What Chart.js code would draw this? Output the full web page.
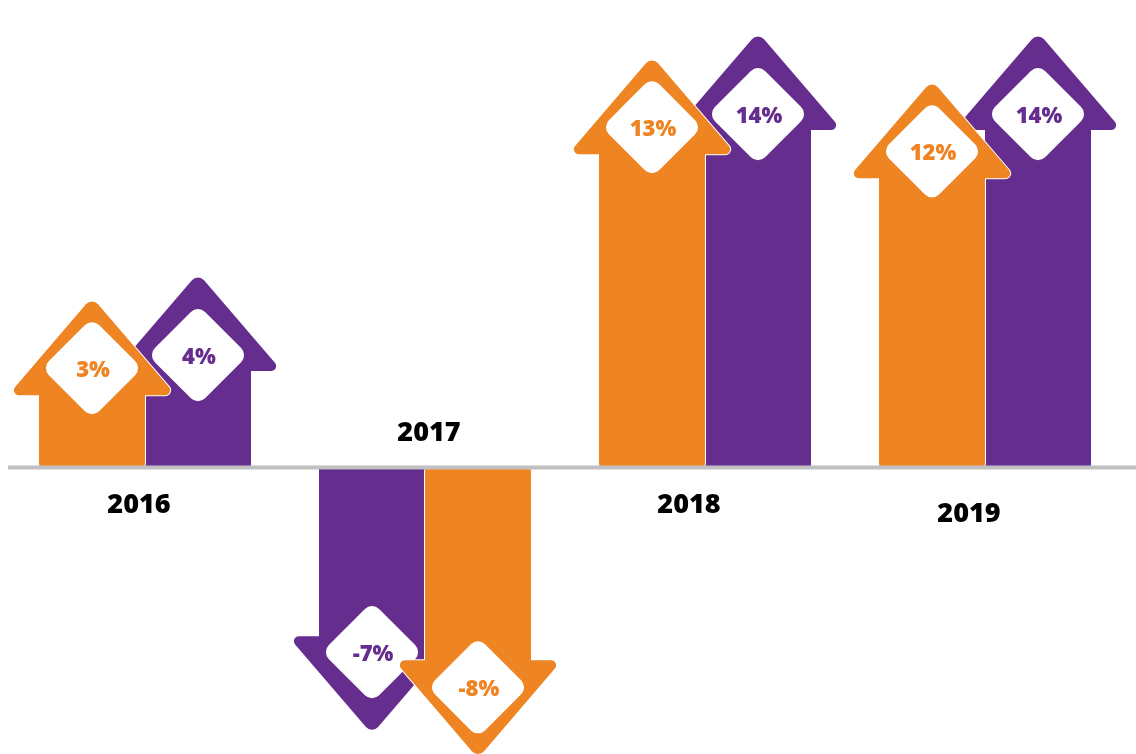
<!DOCTYPE html>
<html>
<head>
<meta charset="utf-8">
<script src="https://cdn.jsdelivr.net/npm/chart.js@4.4.1/dist/chart.umd.min.js"></script>
<style>
  html, body { margin: 0; padding: 0; background: #ffffff; }
  #wrap { width: 1136px; height: 754px; position: relative; }
</style>
</head>
<body>
<div id="wrap"><canvas id="c"></canvas></div>
<script>
// ---- data ----
const years = ['2016', '2017', '2018', '2019'];
const orangeSeries = [3, -8, 13, 12];
const purpleSeries = [4, -7, 14, 14];
// which series sits in the left slot of each year group
const leftSeriesName = ['orange', 'purple', 'orange', 'orange'];
const valueLabels = { orange: orangeSeries.map(v => v + '%'), purple: purpleSeries.map(v => v + '%') };

// ---- styles ----
const COLORS = { orange: '#EE8422', purple: '#652D8E' };
const STYLE = {
  headHeight: 98, headOverhang: 31, tipRadius: 8, wingRadius: 5, baseRadius: 4,
  diamondSide: 71, diamondRadius: 10, diamondOffset: { orange: 27, purple: 16 },
  pctFont: '800 22px "Open Sans", "DejaVu Sans", sans-serif',
  yearFont: '800 27px "Open Sans", "DejaVu Sans", sans-serif',
  yearGap: 36,
  yearNudge: [{ dx: -6, dy: 0 }, { dx: 4, dy: 0 }, { dx: -16, dy: 0 }, { dx: -16, dy: 9 }],
  baseline: { color: '#C0C0C0', width: 4, startX: 8 }
};

const seriesValues = { orange: orangeSeries, purple: purpleSeries };
const rightSeriesName = leftSeriesName.map(n => n === 'orange' ? 'purple' : 'orange');
const leftData = years.map((_, i) => seriesValues[leftSeriesName[i]][i]);
const rightData = years.map((_, i) => seriesValues[rightSeriesName[i]][i]);

function roundPoly(ctx, pts) {
  const n = pts.length;
  const a = pts[0], b = pts[n - 1];
  ctx.beginPath();
  ctx.moveTo((a.x + b.x) / 2, (a.y + b.y) / 2);
  for (let i = 0; i < n; i++) {
    const p = pts[i], q = pts[(i + 1) % n];
    ctx.arcTo(p.x, p.y, q.x, q.y, p.r);
  }
  ctx.closePath();
}

function arrowPath(ctx, bar) {
  const half = bar.width / 2;
  const bl = bar.x - half, br = bar.x + half;
  const y0 = bar.base, yw = bar.y;
  const dir = yw < y0 ? -1 : 1;
  const yt = yw + dir * STYLE.headHeight;
  const hw = half + STYLE.headOverhang;
  roundPoly(ctx, [
    { x: bl, y: y0, r: STYLE.baseRadius },
    { x: br, y: y0, r: STYLE.baseRadius },
    { x: br, y: yw, r: 0 },
    { x: bar.x + hw, y: yw, r: STYLE.wingRadius },
    { x: bar.x, y: yt, r: STYLE.tipRadius },
    { x: bar.x - hw, y: yw, r: STYLE.wingRadius },
    { x: bl, y: yw, r: 0 }
  ]);
  return dir;
}

function drawDiamond(ctx, cx, cy) {
  const s = STYLE.diamondSide, r = STYLE.diamondRadius, h = s / 2;
  ctx.save();
  ctx.translate(cx, cy);
  ctx.rotate(Math.PI / 4);
  roundPoly(ctx, [
    { x: -h, y: -h, r: r }, { x: h, y: -h, r: r }, { x: h, y: h, r: r }, { x: -h, y: h, r: r }
  ]);
  ctx.fillStyle = '#ffffff';
  ctx.fill();
  ctx.restore();
}

const arrowPlugin = {
  id: 'arrows',
  afterDatasetsDraw(chart) {
    const ctx = chart.ctx;
    const metas = [chart.getDatasetMeta(0), chart.getDatasetMeta(1)];
    const items = [];
    years.forEach((_, i) => {
      items.push({ bar: metas[0].data[i], name: leftSeriesName[i], i });
      items.push({ bar: metas[1].data[i], name: rightSeriesName[i], i });
    });
    // purple first, orange on top
    const ordered = items.filter(t => t.name === 'purple').concat(items.filter(t => t.name === 'orange'));
    ctx.save();
    ordered.forEach(t => {
      const bar = t.bar;
      const dir = arrowPath(ctx, bar);
      if (t.name === 'orange') {
        ctx.strokeStyle = '#ffffff';
        ctx.lineWidth = 2;
        ctx.lineJoin = 'round';
        ctx.stroke();
      }
      ctx.fillStyle = COLORS[t.name];
      ctx.fill();
      const cy = bar.y + dir * STYLE.diamondOffset[t.name];
      drawDiamond(ctx, bar.x, cy);
      ctx.font = STYLE.pctFont;
      ctx.fillStyle = COLORS[t.name];
      ctx.textAlign = 'center';
      ctx.textBaseline = 'alphabetic';
      ctx.fillText(valueLabels[t.name][t.i], bar.x + 1, cy + 9);
    });
    // baseline
    const y0 = chart.scales.y.getPixelForValue(0);
    ctx.fillStyle = STYLE.baseline.color;
    ctx.fillRect(STYLE.baseline.startX, y0 - STYLE.baseline.width / 2, chart.width - STYLE.baseline.startX, STYLE.baseline.width);
    // year labels
    ctx.font = STYLE.yearFont;
    ctx.fillStyle = '#000000';
    ctx.textAlign = 'center';
    years.forEach((yr, i) => {
      const cx = chart.scales.x.getPixelForValue(i);
      const neg = leftData[i] < 0 && rightData[i] < 0;
      const cy = neg ? y0 - STYLE.yearGap : y0 + STYLE.yearGap;
      const n = STYLE.yearNudge[i];
      ctx.fillText(yr, cx + n.dx, cy + n.dy + 10);
    });
    ctx.restore();
  }
};

new Chart(document.getElementById('c'), {
  type: 'bar',
  data: {
    labels: years,
    datasets: [
      { label: 'left', data: leftData, backgroundColor: ctx => COLORS[leftSeriesName[ctx.dataIndex]], borderWidth: 0 },
      { label: 'right', data: rightData, backgroundColor: ctx => COLORS[rightSeriesName[ctx.dataIndex]], borderWidth: 0 }
    ]
  },
  options: {
    responsive: true,
    maintainAspectRatio: false,
    animation: false,
    devicePixelRatio: 1,
    layout: { padding: { left: 5, right: 11, top: 0, bottom: 0 } },
    datasets: { bar: { categoryPercentage: 0.757, barPercentage: 1.0 } },
    scales: {
      x: { display: false },
      y: { display: false, min: -11.89, max: 19.4 }
    },
    plugins: { legend: { display: false }, tooltip: { enabled: false } }
  },
  plugins: [arrowPlugin]
});
</script>
</body>
</html>
